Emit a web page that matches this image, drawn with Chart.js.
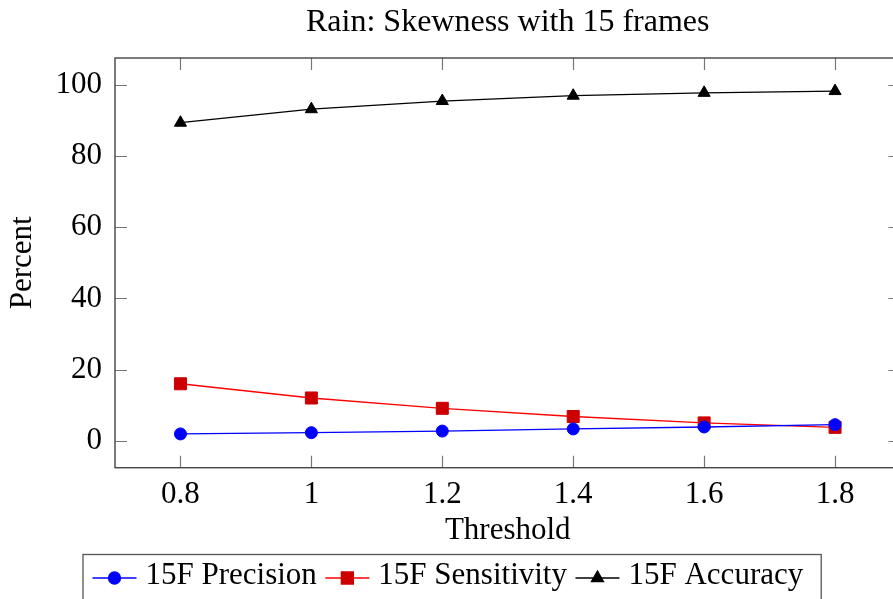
<!DOCTYPE html>
<html><head><meta charset="utf-8">
<script src="https://cdn.jsdelivr.net/npm/chart.js@4/dist/chart.umd.min.js"></script>
<style>html,body{margin:0;padding:0;overflow:hidden;background:#fff}#wrap{width:910px;height:599px;position:relative}</style>
</head><body><div id="wrap"><canvas id="c" width="910" height="599"></canvas></div>
<script>
const thresholds = [0.8, 1.0, 1.2, 1.4, 1.6, 1.8];
const precision = [1.9, 2.25, 2.7, 3.3, 3.85, 4.5];
const sensitivity = [16.0, 12.0, 9.1, 6.8, 5.0, 3.75];
const accuracy = [89.4, 93.2, 95.5, 97.0, 97.8, 98.3];
const xTickValues = [0.8, 1, 1.2, 1.4, 1.6, 1.8];
const yTickValues = [0, 20, 40, 60, 80, 100];
const seriesLabels = ['15F Precision', '15F Sensitivity', '15F Accuracy'];
const chartTitle = 'Rain: Skewness with 15 frames';

const F = "'Liberation Serif', 'Times New Roman', serif";
const FS = 31;

function pts(vals) { return thresholds.map((x, i) => ({x: x, y: vals[i]})); }

const frame = {
  id: 'frame',
  beforeDatasetsDraw(chart) {
    const {ctx, chartArea: a, scales: {x, y}} = chart;
    ctx.save();
    ctx.strokeStyle = '#777';
    ctx.lineWidth = 1.2;
    const L = 12;
    ctx.beginPath();
    x.ticks.forEach(t => {
      const px = Math.round(x.getPixelForValue(t.value)) + 0.5;
      ctx.moveTo(px, a.bottom); ctx.lineTo(px, a.bottom - L);
      ctx.moveTo(px, a.top); ctx.lineTo(px, a.top + L);
    });
    y.ticks.forEach(t => {
      const py = Math.round(y.getPixelForValue(t.value)) + 0.5;
      ctx.moveTo(a.left, py); ctx.lineTo(a.left + L, py);
      ctx.moveTo(a.right, py); ctx.lineTo(a.right - L, py);
    });
    ctx.stroke();
    ctx.strokeStyle = '#444';
    ctx.lineWidth = 1.4;
    ctx.strokeRect(a.left, a.top, a.right - a.left, a.bottom - a.top);
    ctx.restore();
  }
};

const legendBox = {
  id: 'legendBox',
  afterDraw(chart) {
    const ctx = chart.ctx;
    ctx.save();
    ctx.font = FS + 'px ' + F;
    ctx.textBaseline = 'middle';
    ctx.textAlign = 'left';
    const yLine = 578, yText = 576;
    let xpos = 92.5;
    const startX = 83;
    let lastEnd = xpos;
    chart.data.datasets.forEach((ds, i) => {
      ctx.strokeStyle = ds.borderColor;
      ctx.lineWidth = 1.3;
      ctx.beginPath(); ctx.moveTo(xpos, yLine); ctx.lineTo(xpos + 44, yLine); ctx.stroke();
      ctx.fillStyle = ds.pointBackgroundColor;
      ctx.strokeStyle = ds.pointBorderColor;
      Chart.helpers.drawPoint(ctx, {pointStyle: ds.pointStyle, radius: ds.pointRadius, rotation: 0, borderWidth: 1}, xpos + 22, yLine);
      ctx.fillStyle = '#000';
      ctx.fillText(ds.label, xpos + 53, yText);
      lastEnd = xpos + 53 + ctx.measureText(ds.label).width;
      xpos = lastEnd + 8.5;
    });
    const endX = lastEnd + 18;
    ctx.strokeStyle = '#555';
    ctx.lineWidth = 1.3;
    ctx.strokeRect(startX, 554.5, endX - startX, 80);
    ctx.restore();
  }
};

new Chart(document.getElementById('c'), {
  type: 'line',
  data: {
    datasets: [
      {label: seriesLabels[0], data: pts(precision), borderColor: '#0000ff', backgroundColor: '#0000ff',
       pointBackgroundColor: '#0000ff', pointBorderColor: '#0000ff', pointStyle: 'circle', pointRadius: 6, borderWidth: 1.3, pointBorderWidth: 1},
      {label: seriesLabels[1], data: pts(sensitivity), borderColor: '#ff0000', backgroundColor: '#cc0000',
       pointBackgroundColor: '#cc0000', pointBorderColor: '#cc0000', pointStyle: 'rect', pointRadius: 8.5, borderWidth: 1.3, pointBorderWidth: 1},
      {label: seriesLabels[2], data: pts(accuracy), borderColor: '#000000', backgroundColor: '#000000',
       pointBackgroundColor: '#000000', pointBorderColor: '#000000', pointStyle: 'triangle', pointRadius: 7, borderWidth: 1.3, pointBorderWidth: 1}
    ]
  },
  options: {
    responsive: false,
    devicePixelRatio: 1,
    animation: false,
    layout: {padding: {top: 0, left: 0, right: 6.3, bottom: 49.4}},
    plugins: {
      legend: {display: false},
      tooltip: {enabled: false},
      title: {display: false}
    },
    scales: {
      x: {
        type: 'linear', min: 0.7, max: 1.9,
        afterBuildTicks: s => { s.ticks = xTickValues.map(v => ({value: v})); },
        afterFit: s => { s.height = 81.9; },
        grid: {display: false, drawTicks: false},
        border: {display: false},
        ticks: {padding: 9, color: '#000', font: {family: F, size: FS, lineHeight: 1.2},
                callback: v => String(Math.round(v * 10) / 10)},
        title: {display: true, text: 'Threshold', color: '#000', font: {family: F, size: FS, lineHeight: 1.2},
                padding: {top: 0, bottom: 0}}
      },
      xTop: {
        type: 'linear', position: 'top', min: 0.7, max: 1.9,
        afterBuildTicks: s => { s.ticks = []; },
        afterFit: s => { s.height = 58; },
        grid: {display: false, drawTicks: false},
        border: {display: false},
        ticks: {display: false},
        title: {display: true, text: chartTitle, color: '#000', font: {family: F, size: 32, lineHeight: 1.2},
                padding: {top: 3.8, bottom: 0}}
      },
      y: {
        type: 'linear', min: -7.6, max: 107.6,
        afterBuildTicks: s => { s.ticks = yTickValues.map(v => ({value: v})); },
        afterFit: s => { s.width = 115; },
        grid: {display: false, drawTicks: false},
        border: {display: false},
        ticks: {padding: 13, color: '#000', font: {family: F, size: FS, lineHeight: 1.2},
                callback: v => String(v)},
        title: {display: true, text: 'Percent', color: '#000', font: {family: F, size: FS, lineHeight: 1.2},
                padding: {top: 4, bottom: 0}}
      }
    }
  },
  plugins: [frame, legendBox]
});
</script>
</body></html>
